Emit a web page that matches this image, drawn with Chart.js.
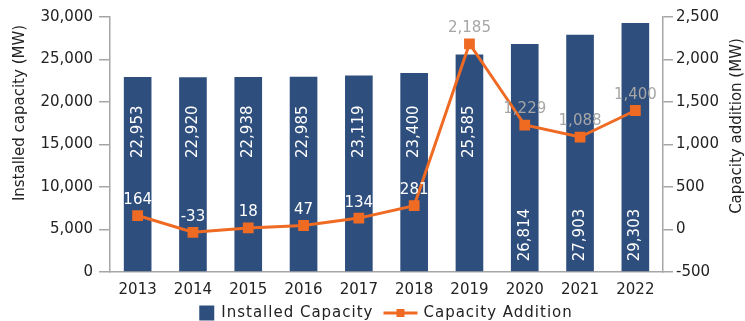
<!DOCTYPE html>
<html>
<head>
<meta charset="utf-8">
<script src="https://cdn.jsdelivr.net/npm/chart.js@4.4.0/dist/chart.umd.min.js"></script>
<style>
  html, body { margin: 0; padding: 0; background: #fff; }
  #wrap { width: 745px; height: 321px; position: relative; }
</style>
</head>
<body>
<div id="wrap"><canvas id="capacity_chart"></canvas></div>
<script>
var years = ['2013', '2014', '2015', '2016', '2017', '2018', '2019', '2020', '2021', '2022'];
var installedCapacity = [22953, 22920, 22938, 22985, 23119, 23400, 25585, 26814, 27903, 29303];
var capacityAddition = [164, -33, 18, 47, 134, 281, 2185, 1229, 1088, 1400];

var FONT = '"DejaVu Sans", sans-serif';
var BAR_COLOR = '#2e4e7e';
var LINE_COLOR = '#ef6a22';
var AXIS_COLOR = '#a6a6a6';
var TEXT_COLOR = '#222222';

function fmt(v) {
    return Number(v).toLocaleString('en-US');
}

// value labels inside the bars and above the line points
var valueLabels = {
    id: 'valueLabels',
    afterDatasetsDraw: function(chart) {
        var ctx = chart.ctx;
        var yLeft = chart.scales.y;
        var bars = chart.getDatasetMeta(0).data;
        var points = chart.getDatasetMeta(1).data;
        var bandY = yLeft.getPixelForValue(16500);

        ctx.save();
        ctx.font = '15px ' + FONT;
        ctx.fillStyle = '#ffffff';
        ctx.textBaseline = 'middle';
        bars.forEach(function(bar, i) {
            var text = fmt(installedCapacity[i]);
            ctx.save();
            // move the label to the bar's foot when the line crosses the usual spot
            if (Math.abs(points[i].y - bandY) < 40) {
                ctx.translate(bar.x, bar.base - 10);
                ctx.rotate(-Math.PI / 2);
                ctx.textAlign = 'left';
            } else {
                ctx.translate(bar.x, bandY);
                ctx.rotate(-Math.PI / 2);
                ctx.textAlign = 'center';
            }
            ctx.fillText(text, 0, 0);
            ctx.restore();
        });

        ctx.textAlign = 'center';
        ctx.textBaseline = 'bottom';
        points.forEach(function(pt, i) {
            var v = capacityAddition[i];
            ctx.fillStyle = v >= 1000 ? '#a6a6a6' : '#ffffff';
            ctx.fillText(fmt(v), pt.x, pt.y - 8);
        });
        ctx.restore();
    }
};

// axis titles and legend
var decorations = {
    id: 'decorations',
    afterDraw: function(chart) {
        var ctx = chart.ctx;
        ctx.save();
        ctx.font = '15px ' + FONT;
        ctx.fillStyle = TEXT_COLOR;
        ctx.textAlign = 'center';
        ctx.textBaseline = 'middle';

        ctx.save();
        ctx.translate(20, 113);
        ctx.rotate(-Math.PI / 2);
        ctx.fillText('Installed capacity (MW)', 0, 0);
        ctx.restore();

        ctx.save();
        ctx.translate(737, 126);
        ctx.rotate(-Math.PI / 2);
        ctx.fillText('Capacity addition (MW)', 0, 0);
        ctx.restore();

        ctx.letterSpacing = '1px';
        var label1 = 'Installed Capacity';
        var label2 = 'Capacity Addition';
        var w1 = ctx.measureText(label1).width;
        var w2 = ctx.measureText(label2).width;
        var total = 15 + 7 + w1 + 10 + 34 + 6 + w2;
        var x = 386 - total / 2;
        var y = 313;

        ctx.fillStyle = BAR_COLOR;
        ctx.fillRect(x, y - 7.5, 15, 15);
        x += 22;
        ctx.fillStyle = TEXT_COLOR;
        ctx.textAlign = 'left';
        ctx.fillText(label1, x, y);
        x += w1 + 10;

        ctx.strokeStyle = LINE_COLOR;
        ctx.lineWidth = 3;
        ctx.beginPath();
        ctx.moveTo(x, y);
        ctx.lineTo(x + 34, y);
        ctx.stroke();
        ctx.fillStyle = LINE_COLOR;
        ctx.fillRect(x + 17 - 4, y - 4, 8, 8);
        x += 40;
        ctx.fillStyle = TEXT_COLOR;
        ctx.fillText(label2, x, y);
        ctx.restore();
    }
};

var ctx = document.getElementById('capacity_chart').getContext('2d');
var chart = new Chart(ctx, {
    data: {
        labels: years,
        datasets: [
            {
                type: 'bar',
                label: 'Installed Capacity',
                data: installedCapacity,
                backgroundColor: BAR_COLOR,
                yAxisID: 'y',
                categoryPercentage: 1.0,
                barPercentage: 0.5,
                order: 2
            },
            {
                type: 'line',
                label: 'Capacity Addition',
                data: capacityAddition,
                borderColor: LINE_COLOR,
                backgroundColor: LINE_COLOR,
                borderWidth: 3,
                pointStyle: 'rect',
                pointRadius: 5.5,
                pointHoverRadius: 5.5,
                tension: 0,
                yAxisID: 'y1',
                order: 1
            }
        ]
    },
    options: {
        responsive: true,
        maintainAspectRatio: false,
        animation: false,
        layout: { padding: { top: 17, left: 0, right: 0, bottom: 0 } },
        plugins: {
            legend: { display: false },
            tooltip: { enabled: false }
        },
        scales: {
            x: {
                grid: { display: false },
                border: { display: true, color: AXIS_COLOR, width: 1.5 },
                ticks: { color: TEXT_COLOR, font: { family: FONT, size: 15 }, padding: 1 },
                afterFit: function(scale) { scale.height = 49; }
            },
            y: {
                position: 'left',
                min: 0,
                max: 30000,
                grid: { drawOnChartArea: false, drawTicks: true, tickLength: 11, color: AXIS_COLOR, lineWidth: 1.5 },
                border: { display: true, color: AXIS_COLOR, width: 1.5 },
                ticks: {
                    stepSize: 5000,
                    color: TEXT_COLOR,
                    font: { family: FONT, size: 15 },
                    padding: 6,
                    callback: function(v) { return fmt(v); }
                },
                afterFit: function(scale) { scale.width = 110; }
            },
            y1: {
                position: 'right',
                min: -500,
                max: 2500,
                grid: { drawOnChartArea: false, drawTicks: true, tickLength: 10, color: AXIS_COLOR, lineWidth: 1.5 },
                border: { display: true, color: AXIS_COLOR, width: 1.5 },
                ticks: {
                    stepSize: 500,
                    color: TEXT_COLOR,
                    font: { family: FONT, size: 15 },
                    padding: 3,
                    callback: function(v) { return fmt(v); }
                },
                afterFit: function(scale) { scale.width = 82; }
            }
        }
    },
    plugins: [valueLabels, decorations]
});
</script>
</body>
</html>
